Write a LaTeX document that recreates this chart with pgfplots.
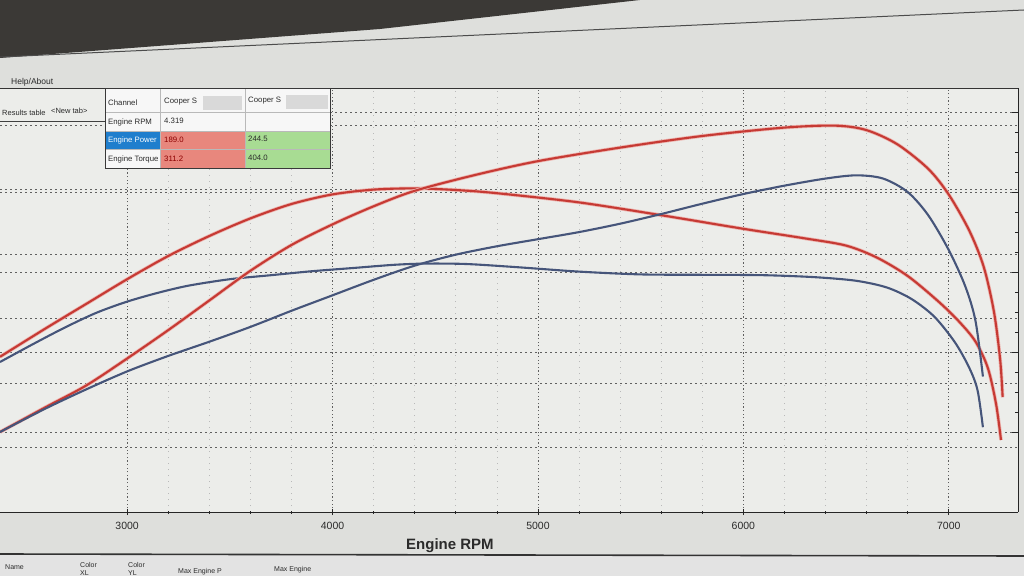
\documentclass[border=0pt]{standalone}
\usepackage{pgfplots}
\pgfplotsset{compat=1.18}
\usepackage{pgfplotstable}
\usepackage{fontspec}
\setmainfont{Liberation Sans}

\definecolor{redc}{HTML}{C63A34}
\definecolor{redhalo}{HTML}{EDB3AE}
\definecolor{bluec}{HTML}{46557A}
\definecolor{bgplot}{HTML}{ECEDEA}
\definecolor{bgwin}{HTML}{DEDFDC}
\definecolor{bezel}{HTML}{3B3936}
\definecolor{gridc}{HTML}{5E5E5E}
\definecolor{cellred}{HTML}{E8877D}
\definecolor{cellgreen}{HTML}{A8DC93}
\definecolor{cellblue}{HTML}{1F7ECD}
\definecolor{txt}{HTML}{2B2B2B}

% Cooper S (red, stronger): power [hp] and torque [Nm] vs engine speed
\pgfplotstableread{
rpm P
2381 62
2600 81
2800 98
3000 119
3200 141
3400 164
3600 187
3800 207
4000 223
4200 237
4400 249
4700 261.5
5000 272
5400 282.5
5800 291.5
6200 298
6450 299.5
6600 296
6750 285
6900 266
7000 246
7100 218
7170 190
7220 155
7250 118
7262 89
}\redpower
\pgfplotstableread{
rpm T
2381 194
2600 229
2800 260
3000 291
3200 320
3400 345
3600 367
3800 385
4000 397
4200 403
4400 404.5
4600 402.5
4800 398.5
5200 387
5600 371
6000 354
6300 342
6500 333
6650 318
6800 295
6950 263
7050 238
7130 213
7190 180
7230 135
7254 90
}\redtorque
% Cooper S (blue): power and torque
\pgfplotstableread{
rpm P
2381 62
2600 80
2800 95
3000 109
3200 121
3400 132
3600 143.5
3800 156
4000 168
4200 180
4400 191
4600 199.5
4800 206
5000 211.5
5200 217
5400 223.5
5600 231
5800 239
6000 246.5
6200 253
6400 258.5
6550 261
6680 258.5
6800 248
6900 230
7000 203
7080 175
7130 148
7166 105
}\bluepower
\pgfplotstableread{
rpm T
2381 187.5
2550 211
2700 231
2850 249
3000 263
3150 274
3300 283
3500 291
3700 296
3900 301
4100 305
4300 309
4450 310.5
4650 310
4900 306
5200 300.5
5500 297
5800 296.5
6100 296
6350 293.5
6550 289
6700 280.5
6820 266
6930 244
7030 212
7100 180
7140 152
7166 106
}\bluetorque

\tikzset{ygridstyle/.style={gray!75!black, dash pattern=on 2pt off 3pt, line width=0.6pt}}
\pgfplotsset{
  base/.style={
    at={(0pt,64pt)}, anchor=south west,
    scale only axis, width=1018pt, height=424pt,
    xmin=2381, xmax=7337,
  },
  curve/.style={line width=2.1pt, smooth, tension=0.5},
  redcurve/.style={curve, redc, preaction={draw, redhalo, line width=3.6pt}},
}

\begin{document}
\begin{tikzpicture}
\path[use as bounding box] (0pt,0pt) rectangle (1024pt,576pt);
\clip (0pt,0pt) rectangle (1024pt,576pt);
% window background
\fill[bgwin] (0pt,0pt) rectangle (1024pt,576pt);
\fill[bgplot] (0pt,64pt) rectangle (1018pt,488pt);
% monitor bezel and window top edge
\fill[bezel] (0pt,576pt) -- (0pt,518pt) -- (380pt,547pt) -- (640pt,576pt) -- cycle;
\draw[gray!60!black, line width=1pt] (0pt,519pt) -- (1024pt,566pt);
% bottom results panel
\fill[gray!22] (0pt,0pt) rectangle (1024pt,22pt);
\draw[gray!40!black, line width=1.6pt] (0pt,22pt) -- (1024pt,20pt);

% grid axis (power scale, x axis)
\begin{axis}[base,
  ymin=0, ymax=328.7,
  axis x line=bottom, axis y line=left,
  axis line style={-, gray!30!black, line width=0.9pt},
  y axis line style={draw=none},
  xtick={3000,4000,5000,6000,7000},
  minor x tick num=4,
  xmajorgrids, xminorgrids,
  major x grid style={gridc, dash pattern=on 1.2pt off 2.4pt, line width=0.9pt},
  minor x grid style={gray!55, dash pattern=on 1pt off 5pt, line width=0.7pt},
  major tick length=6pt, minor tick length=3pt,
  tick style={gray!30!black, line width=0.8pt},
  ytick={50,100,150,200,250,300}, ymajorgrids,
  major y grid style={ygridstyle},
  every y tick/.style={draw=none},
  yticklabels={},
  /pgf/number format/assume math mode=true,
  xticklabel style={font=\fontsize{10.5}{12}\selectfont, text=txt, yshift=-4pt},
  scaled x ticks=false,
  xticklabel={\pgfmathprintnumber[fixed,1000 sep={}]{\tick}},
  xlabel={Engine RPM},
  xlabel style={font=\fontsize{15}{18}\selectfont\bfseries, text=txt,
    at={(axis description cs:0.442,0)}, anchor=north, yshift=-23pt},
]
\draw[gray!40!black, line width=0.9pt] (rel axis cs:0,1) -- (rel axis cs:1,1);
\end{axis}

% torque axis (right), torque curves
\begin{axis}[base,
  ymin=0, ymax=530,
  axis x line=none, axis y line*=right,
  axis line style={-, gray!30!black, line width=0.9pt},
  ytick={100,200,300,400,500}, minor y tick num=3,
  ymajorgrids, major y grid style={ygridstyle},
  yticklabels={},
  major tick length=6pt, minor tick length=3pt,
  tick style={gray!30!black, line width=0.8pt},
]
\addplot[redcurve] table[x=rpm, y=T] {\redtorque};
\addplot[bluec, curve] table[x=rpm, y=T] {\bluetorque};
\end{axis}

% power curves
\begin{axis}[base, ymin=0, ymax=328.7, hide axis]
\addplot[redcurve] table[x=rpm, y=P] {\redpower};
\addplot[bluec, curve] table[x=rpm, y=P] {\bluepower};
\end{axis}

% menu and tabs
\node[anchor=west, font=\fontsize{8.5}{10}\selectfont, text=txt, inner sep=1pt] at (10pt,494pt) {Help/About};
\fill[bgplot] (0pt,456pt) rectangle (104pt,487pt);
\draw[gray!50!black, line width=0.6pt] (0pt,455pt) -- (105pt,455pt);
\node[anchor=west, font=\fontsize{7.5}{9}\selectfont, text=txt, inner sep=1pt] at (1pt,463pt) {Results table};
\node[anchor=west, font=\fontsize{7.5}{9}\selectfont, text=txt, inner sep=1pt] at (50pt,465pt) {\textless New tab\textgreater};

% results table overlay
\fill[gray!6] (105pt,408pt) rectangle (330pt,488pt);
\fill[cellblue] (106pt,427pt) rectangle (160pt,445pt);
\fill[cellred] (160pt,408pt) rectangle (245pt,445pt);
\fill[cellgreen] (245pt,408pt) rectangle (330pt,445pt);
\fill[gray!30] (203pt,466pt) rectangle (242pt,480pt);
\fill[gray!30] (286pt,467pt) rectangle (328pt,481pt);
\draw[gray!55, line width=0.6pt] (105pt,464pt) -- (330pt,464pt)
  (105pt,445pt) -- (330pt,445pt) (105pt,427pt) -- (330pt,427pt)
  (160pt,408pt) -- (160pt,488pt) (245pt,408pt) -- (245pt,488pt);
\draw[gray!45!black, line width=0.8pt] (105pt,408pt) rectangle (330pt,488pt);
\begin{scope}[every node/.style={anchor=west, font=\fontsize{7.8}{9}\selectfont, text=txt, inner sep=0pt}]
\node at (108pt,473pt) {Channel};
\node at (164pt,474pt) {Cooper S};
\node at (248pt,475pt) {Cooper S};
\node at (108pt,454pt) {Engine RPM};
\node at (164pt,455pt) {4.319};
\node[text=white] at (108pt,436pt) {Engine Power};
\node[text=red!55!black] at (164pt,436pt) {189.0};
\node at (248pt,437pt) {244.5};
\node at (108pt,417pt) {Engine Torque};
\node[text=red!55!black] at (164pt,417pt) {311.2};
\node at (248pt,418pt) {404.0};
\end{scope}

% bottom panel headings
\begin{scope}[every node/.style={anchor=west, font=\fontsize{7}{8}\selectfont, text=txt, inner sep=0pt}]
\node at (5pt,9pt) {Name};
\node at (80pt,11pt) {Color};
\node at (80pt,3pt) {XL};
\node at (128pt,11pt) {Color};
\node at (128pt,3pt) {YL};
\node at (178pt,4pt) {Max Engine P};
\node at (274pt,6pt) {Max Engine};
\end{scope}
\end{tikzpicture}
\end{document}
